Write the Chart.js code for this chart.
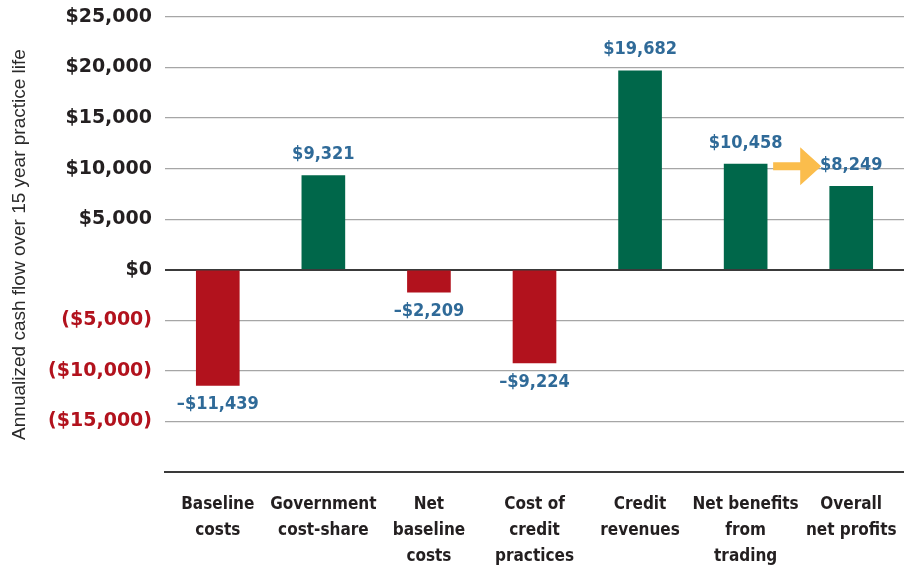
<!DOCTYPE html>
<html>
<head>
<meta charset="utf-8">
<script src="https://cdn.jsdelivr.net/npm/chart.js@4.4.0/dist/chart.umd.min.js"></script>
<style>
  html, body { margin: 0; padding: 0; background: #fff; }
  #wrap { width: 904px; height: 567px; }
</style>
</head>
<body>
<div id="wrap"><canvas id="myChart"></canvas></div>
<script>
// categories and values
const categories = [
  ['Baseline', 'costs'],
  ['Government', 'cost-share'],
  ['Net', 'baseline', 'costs'],
  ['Cost of', 'credit', 'practices'],
  ['Credit', 'revenues'],
  ['Net benefits', 'from', 'trading'],
  ['Overall', 'net profits']
]
const cashFlow = [-11439, 9321, -2209, -9224, 19682, 10458, 8249]
const valueLabels = ['\u2013$11,439', '$9,321', '\u2013$2,209', '\u2013$9,224', '$19,682', '$10,458', '$8,249']
const yTicks = [-20000, -15000, -10000, -5000, 0, 5000, 10000, 15000, 20000, 25000]

const GREEN = '#00674a'
const RED = '#b2121d'
const BLUE = '#2f6a98'
const DARK = '#231f20'

function fmtTick(v) {
  if (v === -20000) return ''
  const s = '$' + Math.abs(v).toLocaleString('en-US')
  return v < 0 ? '(' + s + ')' : s
}

// value labels above/below bars + the arrow between last two bars
const labelPlugin = {
  id: 'valueLabels',
  afterDatasetsDraw(chart) {
    const ctx = chart.ctx
    const meta = chart.getDatasetMeta(0)
    ctx.save()
    ctx.font = 'bold 18px "DejaVu Sans Condensed", "Liberation Sans", sans-serif'
    ctx.fillStyle = BLUE
    ctx.textAlign = 'center'
    ctx.textBaseline = 'middle'
    meta.data.forEach((bar, i) => {
      const v = cashFlow[i]
      const y = v >= 0 ? bar.y - 21 : bar.y + 19
      ctx.fillText(valueLabels[i], bar.x, y)
    })
    // arrow
    const b5 = meta.data[5], b6 = meta.data[6]
    const ay = b6.y - 20
    const x0 = b5.x + b5.width / 2 + 6
    const tip = b6.x - 30
    const headBase = tip - 21
    ctx.fillStyle = '#fbbd4c'
    ctx.beginPath()
    ctx.moveTo(x0, ay - 4)
    ctx.lineTo(headBase, ay - 4)
    ctx.lineTo(headBase, ay - 19)
    ctx.lineTo(tip, ay)
    ctx.lineTo(headBase, ay + 19)
    ctx.lineTo(headBase, ay + 4)
    ctx.lineTo(x0, ay + 4)
    ctx.closePath()
    ctx.fill()
    ctx.restore()
  }
}

const chart = new Chart(document.getElementById('myChart'), {
  type: 'bar',
  data: {
    labels: categories,
    datasets: [{
      label: 'cash flow',
      data: cashFlow,
      backgroundColor: cashFlow.map(v => v < 0 ? RED : GREEN),
      barThickness: 43
    }]
  },
  options: {
    responsive: true,
    maintainAspectRatio: false,
    animation: false,
    layout: { padding: { top: 17, right: 0, left: 0, bottom: 0 } },
    plugins: { legend: { display: false }, tooltip: { enabled: false } },
    scales: {
      x: {
        grid: { display: false },
        border: { display: true, color: '#3a3a3a', width: 2 },
        ticks: {
          color: DARK,
          padding: 12,
          maxRotation: 0,
          autoSkip: false,
          font: { family: '"DejaVu Sans Condensed", "Liberation Sans", sans-serif', size: 17, weight: 'bold', lineHeight: 1.53 }
        },
        afterFit(scale) {
          scale.height = 95
          scale.paddingLeft = 0
          scale.paddingRight = 0
        }
      },
      y: {
        min: -20000,
        max: 25000,
        afterBuildTicks(scale) { scale.ticks = yTicks.map(v => ({ value: v })) },
        border: { display: false },
        grid: {
          drawTicks: false,
          color: ctx => (ctx.tick.value === 0 || ctx.tick.value === -20000) ? '#3a3a3a' : '#a6a6a6',
          lineWidth: ctx => (ctx.tick.value === 0 || ctx.tick.value === -20000) ? 2 : 1.3
        },
        ticks: {
          padding: 13,
          color: ctx => ctx.tick.value < 0 ? RED : DARK,
          font: { family: '"DejaVu Sans", sans-serif', size: 19, weight: 'bold' },
          callback: v => fmtTick(v)
        },
        title: {
          display: true,
          text: 'Annualized cash flow over 15 year practice life',
          color: '#2a2a2a',
          padding: { top: 8, bottom: 0 },
          font: { family: '"Liberation Sans", sans-serif', size: 19 }
        },
        afterFit(scale) {
          scale.width = 165
          scale.paddingTop = 0
          scale.paddingBottom = 0
        }
      }
    }
  },
  plugins: [labelPlugin]
})
</script>
</body>
</html>
